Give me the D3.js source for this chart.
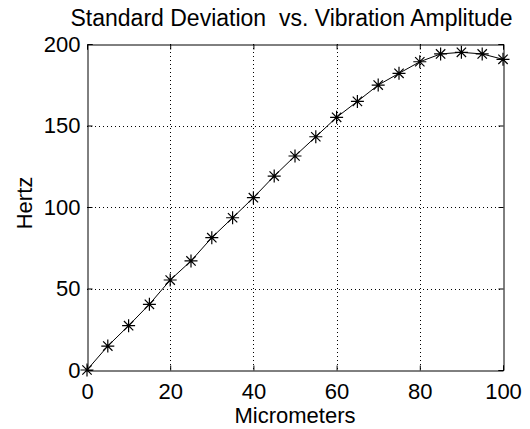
<!DOCTYPE html>
<html><head><meta charset="utf-8">
<script src="https://d3js.org/d3.v7.min.js"></script>
<style>body{margin:0;background:#fff}svg{display:block}text{font-family:"Liberation Sans",Arial,sans-serif;fill:#000}</style>
</head><body><svg id="c" width="530" height="429"></svg>
<script>
const micrometers = [0,5,10,15,20,25,30,35,40,45,50,55,60,65,70,75,80,85,90,95,100];
const hertz = [0,14.7,27.2,40.3,55.2,66.9,81.2,93.4,105.7,119.0,131.3,143.1,155.0,164.8,174.8,182.0,189.1,193.9,194.9,193.9,190.6];
const xTicks = [0,20,40,60,80,100];
const yTicks = [0,50,100,150,200];
const titleText = "Standard Deviation  vs. Vibration Amplitude";
const xLabel = "Micrometers";
const yLabel = "Hertz";

const svg = d3.select("#c");
const L=87,R=503,T=44,B=370;
const x = d3.scaleLinear().domain([0,100]).range([L,R]);
const y = d3.scaleLinear().domain([0,200]).range([B,T]);

// grid
const g = svg.append("g").attr("stroke","#000").attr("stroke-width",1).attr("stroke-dasharray","1,3");
g.selectAll(".gx").data(xTicks.slice(1,-1)).join("line")
 .attr("x1",d=>Math.round(x(d))+0.5).attr("x2",d=>Math.round(x(d))+0.5).attr("y1",T).attr("y2",B);
g.selectAll(".gy").data(yTicks.slice(1,-1)).join("line")
 .attr("y1",d=>Math.round(y(d))+0.5).attr("y2",d=>Math.round(y(d))+0.5).attr("x1",L).attr("x2",R);

// axes
const fs=22;
const xa = svg.append("g").attr("transform",`translate(0,${B+0.5})`)
 .call(d3.axisBottom(x).tickValues(xTicks).tickSize(-5).tickPadding(13).tickFormat(d3.format("d")));
const xa2 = svg.append("g").attr("transform",`translate(0,${T+0.5})`)
 .call(d3.axisTop(x).tickValues(xTicks).tickSize(-5).tickFormat(""));
const ya = svg.append("g").attr("transform",`translate(${L+0.5},0)`)
 .call(d3.axisLeft(y).tickValues(yTicks).tickSize(-5).tickPadding(7).tickFormat(d3.format("d")));
const ya2 = svg.append("g").attr("transform",`translate(${R+0.5},0)`)
 .call(d3.axisRight(y).tickValues(yTicks).tickSize(-5).tickFormat(""));
[xa,xa2,ya,ya2].forEach(a=>{
  a.selectAll("text").attr("font-size",fs).attr("font-family","Liberation Sans, Arial, sans-serif").attr("fill","#000");
  a.selectAll("line").attr("stroke","#000");
  a.select(".domain").attr("stroke","#000");
});
xa.selectAll("text").attr("dy","0.71em");

// line
svg.append("path").datum(micrometers.map((m,i)=>[m,hertz[i]]))
 .attr("fill","none").attr("stroke","#000").attr("stroke-width",1)
 .attr("d",d3.line().x(d=>x(d[0])).y(d=>y(d[1])));

// markers
const s=6.5, s2=s*0.72;
const mk = svg.append("g").attr("stroke","#000").attr("stroke-width",1.2);
micrometers.forEach((m,i)=>{
  const cx=x(m), cy=y(hertz[i]);
  const p=`M${cx-s},${cy}L${cx+s},${cy}M${cx},${cy-s}L${cx},${cy+s}M${cx-s2},${cy-s2}L${cx+s2},${cy+s2}M${cx-s2},${cy+s2}L${cx+s2},${cy-s2}`;
  mk.append("path").attr("d",p);
});

svg.append("text").attr("x",291.5).attr("y",26).attr("text-anchor","middle").attr("font-size",23).style("white-space","pre").attr("xml:space","preserve").text(titleText);
svg.append("text").attr("x",(L+R)/2).attr("y",423).attr("text-anchor","middle").attr("font-size",fs).text(xLabel);
svg.append("text").attr("transform",`translate(32,203) rotate(-90)`).attr("text-anchor","middle").attr("font-size",fs).text(yLabel);
</script></body></html>
